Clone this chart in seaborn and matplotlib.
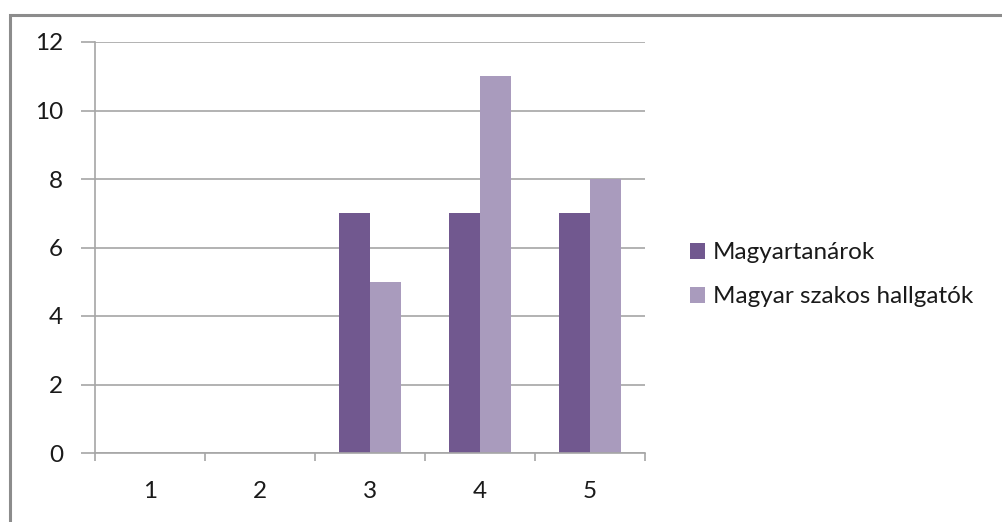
import matplotlib
matplotlib.use("Agg")
import matplotlib.pyplot as plt
import pandas as pd
import seaborn as sns
from matplotlib.patches import Rectangle
from matplotlib.ticker import FixedLocator

# Chart data
categories = ["1", "2", "3", "4", "5"]
teachers = [0, 0, 7, 7, 7]
students = [0, 0, 5, 11, 8]
series_names = ["Magyartanárok", "Magyar szakos hallgatók"]
colors = ["#71588F", "#A99BBD"]

df = pd.DataFrame({
    "category": categories * 2,
    "value": teachers + students,
    "series": [series_names[0]] * len(categories) + [series_names[1]] * len(categories),
})

sns.set_style("white")
plt.rcParams["font.family"] = ["Lato", "DejaVu Sans"]

W, H = 1003, 522
fig = plt.figure(figsize=(W / 100, H / 100), dpi=100)
ax = fig.add_axes([95 / W, 69 / H, 550 / W, 411 / H])

sns.barplot(
    data=df, x="category", y="value", hue="series",
    palette=colors, width=0.565, gap=0, linewidth=0,
    saturation=1, ax=ax, legend=True,
)

grid_c = "#A6A6A6"
text_c = "#1A1A1A"
ax.set_ylim(0, 12)
ax.set_xlim(-0.5, len(categories) - 0.5)
ax.set_yticks(range(0, 13, 2))
ax.yaxis.grid(True, color=grid_c, linewidth=1.2)
ax.set_axisbelow(True)
ax.set_xlabel("")
ax.set_ylabel("")

for side in ["top", "right"]:
    ax.spines[side].set_visible(False)
for side in ["left", "bottom"]:
    ax.spines[side].set_color(grid_c)
    ax.spines[side].set_linewidth(1.2)

ax.tick_params(axis="y", length=10, width=1.2, color=grid_c, labelsize=17.5,
               pad=13, labelcolor=text_c, direction="out", left=True)
ax.tick_params(axis="x", which="major", length=0, labelsize=17.5, pad=20,
               labelcolor=text_c)
ax.xaxis.set_minor_locator(FixedLocator([i - 0.5 for i in range(len(categories) + 1)]))
ax.tick_params(axis="x", which="minor", length=6, width=1.2, color=grid_c,
               direction="out", bottom=True)

# legend to the right of the plot area
handles, labels = ax.get_legend_handles_labels()
ax.get_legend().remove()
fig.legend(handles, labels, loc="upper left", bbox_to_anchor=(683 / W, 1 - 235 / H),
           frameon=False, fontsize=17.5, handlelength=0.62, handleheight=0.62,
           handletextpad=0.3, labelspacing=0.95, labelcolor=text_c,
           borderaxespad=0, borderpad=0.3)

# outer chart border
fig.patches.append(Rectangle((10 / W, -0.05), 1.1, 1 - 15 / H + 0.05,
                             transform=fig.transFigure, fill=False,
                             edgecolor="#8C8C8C", linewidth=2.2))

fig.savefig("out.png", dpi=100)
plt.close(fig)
